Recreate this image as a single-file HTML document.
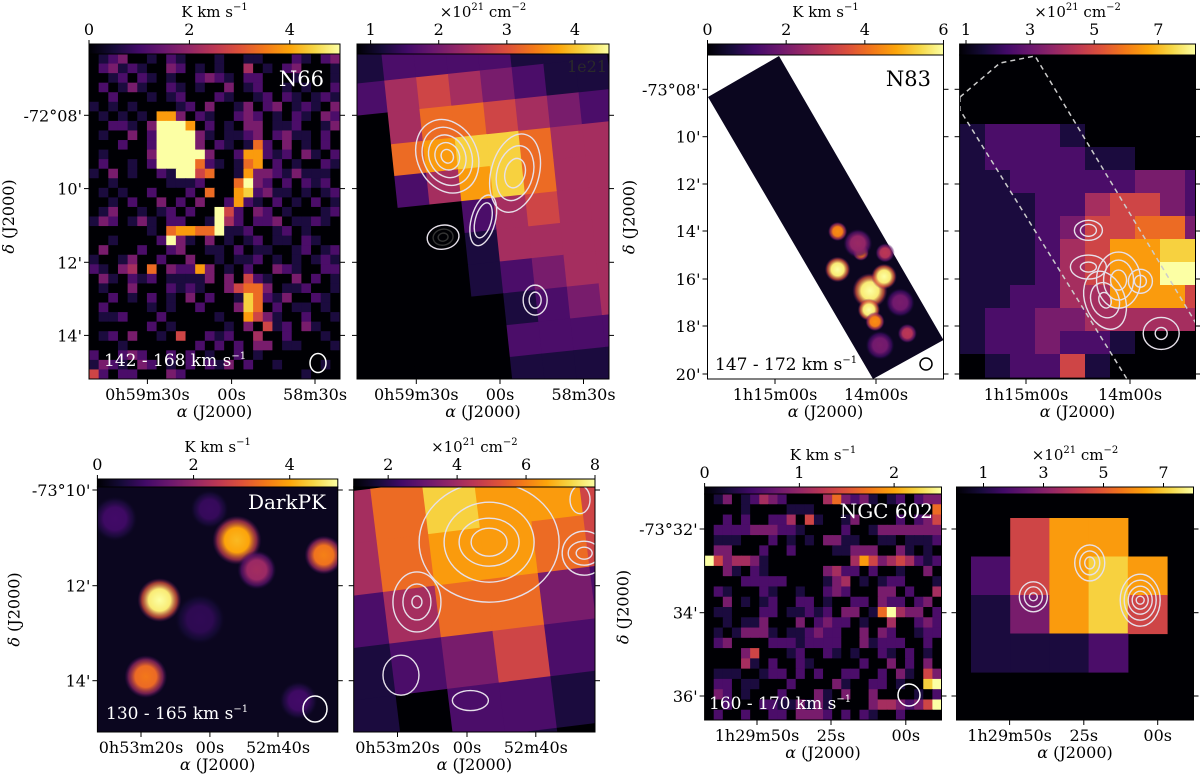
<!DOCTYPE html>
<html><head><meta charset="utf-8">
<style>
html,body{margin:0;padding:0;background:#fff;}
svg{display:block;font-family:"DejaVu Serif","Liberation Serif",serif;}
</style></head>
<body>
<svg id="fig" width="1200" height="776" viewBox="0 0 1200 776" xmlns="http://www.w3.org/2000/svg"></svg>
<script>
// ---------------- DATA ----------------
const n66CO = [
"01230010210001001100021023","02312100320101004010230001","00120210100232102200010001",
"02013100210100301200101002","00200010120002100120210121","10101000012030013023012103",
"01010107730210023201021032","00221039997020103301120013","01003029999310112302311020",
"00020029999302101620301020","01000039999930027721203102","02001029999621016702010021",
"10301002199560017332131110","00100000111200069320202120","01010020002060078231101012",
"00102003020300272102010201","01300101202009520320100012","13201310220019420223011210",
"00000010677669112001201000","00100002931030101201102100","03000200230011020110012012",
"10013002003001011201010121","21034060322730102003210022","03102120111130305210030201",
"01003000212100356630112001","00201020103020018621300210","02000010100200038602011010",
"01120002000001007531002001","00000020100000103051203100","01203001050021200400200010",
"00010000000202020330110001","20023200202010020100000000","13210320102021302001000010",
"52022000320000000000001000"];
const n66NH = ["12222111","24543211","04665432","06788644","02478644","00024544","00014444","00012344","00001234","00002222","00001111"];
const n83NH = ["0000000000","0000000000","0000000000","1222100000","1222211000","1122222332","1112245532","1112355663","1112457788","1112457799","1122447775","1223344444","1223221000","0122510000"];
const darkNH = ["468775","467765","246632","123521","102210","001100"];
const ngcCO = [
"01301243200004632310120233","00001000011100000000000006","00202002240510013000020235",
"02222333221000020013333333","01110002010103311001101112","03300020020000113330031010",
"95344310000000004753454212","00310210000003422020010030","00002222200001340101220001",
"02100021001002320003302004","00301012002201002203220230","01100022011212033016943302",
"00101130003023220100400232","01013331011232200303200122","02300002221222200312220020",
"00003500012002101002102010","00004102002100000200302030","01110012202020022002031053",
"02201100020000310022010089","03201000200031030030000102","00200022113131000034432359",
"02002002203332020210020000"];
const ngcNH = [".577.","25787","13785","1112."];
// N83 CO blobs: RA unit (0=1h15m00s,1=14m00s), Dec arcmin below -73°, peak K km/s, radius arcmin
const n83BlobRA  = [0.62,0.62,0.85,0.94,1.08,0.93,0.99,1.31,1.09,0.82,1.24,1.04];
const n83BlobDec = [14.0,15.6,14.9,16.5,15.9,17.3,17.8,18.3,14.9,14.5,17.0,18.8];
const n83BlobPk  = [4.5,6.0,4.2,6.0,6.0,6.0,4.5,3.0,3.0,2.5,2.0,2.0];
const n83BlobR   = [0.30,0.40,0.25,0.55,0.40,0.35,0.30,0.30,0.30,0.45,0.45,0.45];
// DarkPK CO blobs: RA unit (0=0h53m20s,1=00s,2=52m40s), Dec arcmin below -73°
const dkBlobRA  = [0.27,1.40,2.67,0.07,1.69,-0.38,2.30,0.86,1.00];
const dkBlobDec = [12.30,11.05,11.36,13.90,11.67,10.60,14.40,12.70,10.40];
const dkBlobPk  = [5.0,4.2,3.6,3.5,2.2,1.0,1.0,0.8,0.9];
const dkBlobR   = [0.34,0.38,0.30,0.33,0.30,0.35,0.30,0.40,0.30];
// contour groups
const n66CtrRA=[0.37,1.18,0.80,0.32,1.42], n66CtrDec=[9.12,9.58,10.87,11.33,13.05];
const n66CtrRx=[[6,12,18,24,30],[10,18,24],[8,12],[5,10,16],[6,12]];
const n66CtrRy=[[7,14,22,30,38],[15,28,40],[18,26],[4,8,12],[8,15]];
const n66CtrRot=[-25,15,15,-10,0];
const n83CtrRA=[0.89,0.60,0.60,1.10,1.30,0.76], n83CtrDec=[16.05,15.5,13.95,16.1,18.3,16.9];
const n83CtrRx=[[8,15,22],[8,18],[8,14],[6,12],[6,18],[6,14,20]];
const n83CtrRy=[[10,20,28],[5,12],[6,10],[6,12],[6,16],[8,18,30]];
const n83CtrRot=[0,0,0,0,0,-20];
const dkCtrRA=[1.32,0.28,2.69,0.05,1.05,2.63], dkCtrDec=[11.09,12.34,11.32,13.87,14.4,10.2];
const dkCtrRx=[[18,30,45,70],[5,14,24],[8,16,22],[18],[18],[10]];
const dkCtrRy=[[14,24,40,60],[6,18,30],[6,12,22],[20],[10],[14]];
const dkCtrRot=[0,0,0,0,0,0];
const ngcCtrRA=[1.08,0.32,1.76], ngcCtrDec=[32.81,33.62,33.70];
const ngcCtrRx=[[5,10,15],[4,9,14],[4,8,12,16,20]];
const ngcCtrRy=[[6,12,18],[4,10,15],[4,9,14,20,26]];
const ngcCtrRot=[0,0,0];

// ---------------- HELPERS ----------------
const NS="http://www.w3.org/2000/svg";
const svg=document.getElementById('fig');
function mk(tag,attrs,parent){const e=document.createElementNS(NS,tag);for(const k in attrs)e.setAttribute(k,attrs[k]);(parent||svg).appendChild(e);return e;}
const INF=[[0,0,4],[22,11,57],[66,10,104],[106,23,110],[147,38,103],[188,55,84],[221,81,58],[243,120,25],[252,165,10],[246,215,70],[252,255,164]];
function inferno(t){t=Math.max(0,Math.min(1,t));const s=t*10,i=Math.min(9,Math.floor(s)),f=s-i;const a=INF[i],b=INF[i+1];
 return 'rgb('+a.map((v,k)=>Math.round(v+(b[k]-v)*f)).join(',')+')';}
const defs=mk('defs',{});
let clipN=0;
function clipFor(p){const id='clip'+(clipN++);const c=mk('clipPath',{id:id},defs);mk('rect',{x:p.x0,y:p.y0,width:p.x1-p.x0,height:p.y1-p.y0},c);return id;}
function text(s,x,y,opt,parent){const t=mk('text',Object.assign({x:x,y:y,'font-size':16,'text-anchor':'middle',fill:'#000'},opt||{}),parent);t.innerHTML=s;return t;}

function colorbar(p,name){
 const g=mk('g',{});
 
 
 const gid='grad'+name;const lg=mk('linearGradient',{id:gid,x1:0,x2:1,y1:0,y2:0},defs);
 for(let i=0;i<=10;i++)mk('stop',{offset:i/10,'stop-color':inferno(i/10)},lg);
 mk('rect',{x:p.x0,y:p.cb0,width:p.x1-p.x0,height:p.y0-p.cb0,fill:'url(#'+gid+')',stroke:'#000','stroke-width':1},g);
 const sc=v=>p.x0+(v-p.vmin)/(p.vmax-p.vmin)*(p.x1-p.x0);
 p.cticks.forEach(v=>{const x=sc(v);mk('line',{x1:x,x2:x,y1:p.cb0,y2:p.cb0-4,stroke:'#000'},g);
   const t=text(String(v),x,p.cb0-9,{},g);});
 const tt=text(p.ctitle,(p.x0+p.x1)/2,p.cb0-27,{'font-size':15},g);
 
 
}
function frame(p,name,showY){
 const g=mk('g',{});
 
 
 mk('rect',{x:p.x0,y:p.y0,width:p.x1-p.x0,height:p.y1-p.y0,fill:'none',stroke:'#000','stroke-width':1},g);
 p.yt.forEach((y,i)=>{mk('line',{x1:p.x0,x2:p.x0-5,y1:y,y2:y,stroke:'#000'},g);mk('line',{x1:p.x1,x2:p.x1+5,y1:y,y2:y,stroke:'#000'},g);
   if(showY){const t=text(p.yl[i],p.x0-7,y+6,{'text-anchor':'end'},g);}});
 p.xt.forEach((x,i)=>{mk('line',{x1:x,x2:x,y1:p.y1,y2:p.y1+5,stroke:'#000'},g);
   const t=text(p.xl[i],x,p.y1+21,{},g);});
 const a=text('<tspan font-style="italic">α</tspan> (J2000)',(p.x0+p.x1)/2,p.y1+38,{},g);
 
 
 if(showY){const cy=(p.y0+p.y1)/2;const d=text('<tspan font-style="italic">δ</tspan> (J2000)',0,0,{transform:'translate('+(p.x0-p.dx)+','+cy+') rotate(-90)'},g);
   
   }
}
function grid(p,rows,gx,gy,cw,rh,rot,name){
 const g=mk('g',{'clip-path':'url(#'+p.clip+')'});
 
 
 const inner=mk('g',rot?{transform:'rotate('+rot+' '+((p.x0+p.x1)/2)+' '+((p.y0+p.y1)/2)+')'}:{},g);
 rows.forEach((r,ri)=>{for(let ci=0;ci<r.length;ci++){const ch=r[ci];if(ch==='.')continue;
   const c=mk('rect',{x:gx+ci*cw,y:gy+ri*rh,width:cw+0.6,height:rh+0.6,fill:inferno(+ch/9)},inner);
   
   }});
}
function blobs(p,ra,dec,pk,rr,axX,axY,pxPerArcmin,vmax,name){
 const g=mk('g',{'clip-path':'url(#'+p.clip+')'});
 
 
 ra.forEach((u,i)=>{const id=name+'g'+i;const rg=mk('radialGradient',{id:id},defs);
   const t=pk[i]/vmax;
   mk('stop',{offset:0,'stop-color':inferno(t)},rg);mk('stop',{offset:0.5,'stop-color':inferno(t*0.95)},rg);
   mk('stop',{offset:0.8,'stop-color':inferno(t*0.6),'stop-opacity':0.7},rg);mk('stop',{offset:1,'stop-color':inferno(t*0.3),'stop-opacity':0},rg);
   const r=rr[i]*pxPerArcmin*1.35;
   const c=mk('circle',{cx:axX(u),cy:axY(dec[i]),r:r,fill:'url(#'+id+')'},g);
   
   });
}
function contours(p,ra,dec,rx,ry,rot,axX,axY,name,darkInner){
 const g=mk('g',{'clip-path':'url(#'+p.clip+')',fill:'none','stroke-width':1.4});
 
 
 ra.forEach((u,i)=>{const cx=axX(u),cy=axY(dec[i]);rx[i].forEach((a,k)=>{
   const col=(darkInner&&i===3&&k<2)?'#333':'#e6e0ea';
   const e=mk('ellipse',{cx:cx,cy:cy,rx:a,ry:ry[i][k],stroke:col,transform:'rotate('+rot[i]+' '+cx+' '+cy+')'},g);
   
   });});
}
function beam(x,y,rx,ry){const e=mk('ellipse',{cx:x,cy:y,rx:rx,ry:ry,fill:'none',stroke:'#fff','stroke-width':1.5});
 
 }
function label(s,x,y,anchor,fs,name,col){const t=text(s,x,y,{'text-anchor':anchor,'font-size':fs,fill:col||'#fff'});
 
 }

const KK='K km s<tspan font-size="10" dy="-7">−1</tspan>';
const NH='×10<tspan font-size="10" dy="-7">21</tspan><tspan dy="7"> cm</tspan><tspan font-size="10" dy="-7">−2</tspan>';
const VEL=(a,b)=>a+' - '+b+' km s<tspan font-size="10" dy="-7">−1</tspan>';

// ---------------- PANELS ----------------
const yA={yt:[115.3,188.6,262.3,335.4],yl:["-72°08'","10'","12'","14'"]};
const P1=Object.assign({x0:89,x1:340,y0:54,y1:379,cb0:44,vmin:0,vmax:5,cticks:[0,2,4],ctitle:KK,xt:[147.4,231.6,315],xl:["0h59m30s","00s","58m30s"],dx:75},yA);
const P2=Object.assign({x0:357,x1:609,y0:54,y1:379,cb0:44,vmin:0.8,vmax:4.5,cticks:[1,2,3,4],ctitle:NH,xt:[416.3,500,583.5],xl:["0h59m30s","00s","58m30s"]},yA);
const yB={yt:[89.3,136.7,184,231,279,326,374],yl:["-73°08'","10'","12'","14'","16'","18'","20'"]};
const P3=Object.assign({x0:707.5,x1:943.5,y0:55,y1:379,cb0:44,vmin:0,vmax:6,cticks:[0,2,4,6],ctitle:KK,xt:[775,876],xl:["1h15m00s","14m00s"],dx:73},yB);
const P4=Object.assign({x0:959.6,x1:1195.5,y0:55,y1:379,cb0:44,vmin:0.8,vmax:8.16,cticks:[1,3,5,7],ctitle:NH,xt:[1026,1130],xl:["1h15m00s","14m00s"]},yB);
const yC={yt:[490,585.7,680.7],yl:["-73°10'","12'","14'"]};
const P5=Object.assign({x0:97.4,x1:337.8,y0:487,y1:732,cb0:479,vmin:0,vmax:5,cticks:[0,2,4],ctitle:KK,xt:[141,209.9,278],xl:["0h53m20s","00s","52m40s"],dx:78},yC);
const P6=Object.assign({x0:353.7,x1:595,y0:487,y1:732,cb0:479,vmin:1,vmax:8,cticks:[2,4,6,8],ctitle:NH,xt:[397.5,467,535.8],xl:["0h53m20s","00s","52m40s"]},yC);
const yD={yt:[529,612.7,696],yl:["-73°32'","34'","36'"]};
const P7=Object.assign({x0:704.6,x1:941.5,y0:494,y1:720,cb0:487,vmin:0,vmax:2.5,cticks:[0,1,2],ctitle:KK,xt:[757,831,905.8],xl:["1h29m50s","25s","00s"],dx:76},yD);
const P8=Object.assign({x0:956.5,x1:1193.5,y0:494,y1:720,cb0:487,vmin:0.1,vmax:8,cticks:[1,3,5,7],ctitle:NH,xt:[1009.6,1083.8,1157.7],xl:["1h29m50s","25s","00s"]},yD);
[P1,P2,P3,P4,P5,P6,P7,P8].forEach(p=>{p.clip=clipFor(p);});

// backgrounds
[P1,P2,P4,P6,P7,P8].forEach(p=>{const r=mk('rect',{x:p.x0,y:p.y0,width:p.x1-p.x0,height:p.y1-p.y0,fill:'#000004'});
 
 });
{const r=mk('rect',{x:P5.x0,y:P5.y0,width:P5.x1-P5.x0,height:P5.y1-P5.y0,fill:inferno(0.05)});
 
 }

// P1 N66 CO
grid(P1,n66CO,P1.x0,P1.y0,(P1.x1-P1.x0)/26,(P1.y1-P1.y0)/n66CO.length,0,'n66-co-map');
// P2 N66 NH
grid(P2,n66NH,P2.x0+10,P2.y0-15,32,32,-6,'n66-nh-map');
const ax2X=u=>416.3+u*83.7, ax2Y=d=>115.3+(d-8)*36.6;
contours(P2,n66CtrRA,n66CtrDec,n66CtrRx,n66CtrRy,n66CtrRot,ax2X,ax2Y,'n66-co-contours',true);

// P3 N83 CO strip
{const s=mk('polygon',{points:'708,97 779,56 943.5,340 873,379',fill:inferno(0.05),'clip-path':'url(#'+P3.clip+')'});
 
 }
const ax3X=u=>775+u*101, ax3Y=d=>89.3+(d-8)*23.7;
blobs(P3,n83BlobRA,n83BlobDec,n83BlobPk,n83BlobR,ax3X,ax3Y,23.7,6,'n83-co-clumps');
// P4 N83 NH
grid(P4,n83NH,960,55,25,23,0,'n83-nh-map');
{const d=mk('polyline',{points:'960,97 1000,63 1035,56 1200,330',fill:'none',stroke:'#ccc','stroke-width':1.5,'stroke-dasharray':'5,4','clip-path':'url(#'+P4.clip+')'});
 
 
 const d2=mk('polyline',{points:'960,97 960,110 1127,379',fill:'none',stroke:'#ccc','stroke-width':1.5,'stroke-dasharray':'5,4'});
 
 }
const ax4X=u=>1026+u*104;
contours(P4,n83CtrRA,n83CtrDec,n83CtrRx,n83CtrRy,n83CtrRot,ax4X,ax3Y,'n83-co-contours',false);

// P5 DarkPK CO
const ax5X=u=>141+u*68.5, ax5Y=d=>490+(d-10)*47.85;
blobs(P5,dkBlobRA,dkBlobDec,dkBlobPk,dkBlobR,ax5X,ax5Y,47.85,5,'darkpk-co-clumps');
// P6 DarkPK NH
grid(P6,darkNH,P6.x0-20,P6.y0-10,52,52,-7,'darkpk-nh-map');
const ax6X=u=>397.5+u*69.4;
contours(P6,dkCtrRA,dkCtrDec,dkCtrRx,dkCtrRy,dkCtrRot,ax6X,ax5Y,'darkpk-co-contours',false);

// P7 NGC602 CO
grid(P7,ngcCO,P7.x0,P7.y0,(P7.x1-P7.x0)/26,(P7.y1-P7.y0)/ngcCO.length,0,'ngc602-co-map');
// P8 NGC602 NH
grid(P8,ngcNH,971,518,39.2,38.5,0,'ngc602-nh-map');
const ax8X=u=>1009.6+u*74.2, ax8Y=d=>529+(d-32)*41.85;
contours(P8,ngcCtrRA,ngcCtrDec,ngcCtrRx,ngcCtrRy,ngcCtrRot,ax8X,ax8Y,'ngc602-co-contours',false);

// frames, colorbars
[[P1,'n66-co',1],[P2,'n66-nh',0],[P3,'n83-co',1],[P4,'n83-nh',0],[P5,'darkpk-co',1],[P6,'darkpk-nh',0],[P7,'ngc602-co',1],[P8,'ngc602-nh',0]]
 .forEach(([p,n,s])=>{colorbar(p,n);frame(p,n,s);});

// labels
label('N66',324,86,'end',21,'region-label');
label(VEL(142,168),104,366,'start',17,'velocity-range-label');
beam(318,363,8,9.5);
label('1e21',607,72,'end',16,'offset-label','#2a2a2a');
label('N83',931,86,'end',21,'region-label','#000');
label(VEL(147,172),715,370,'start',17,'velocity-range-label','#000');
{const e=mk('circle',{cx:926,cy:364,r:6,fill:'none',stroke:'#000','stroke-width':1.5});
 
 }
label('DarkPK',326,509,'end',20,'region-label');
label(VEL(130,165),106,719,'start',17,'velocity-range-label');
beam(315,709,12,13);
label('NGC 602',933,518,'end',20,'region-label');
label(VEL(160,170),709,709,'start',17,'velocity-range-label');
beam(909,695,11,11);
</script>
</body></html>
